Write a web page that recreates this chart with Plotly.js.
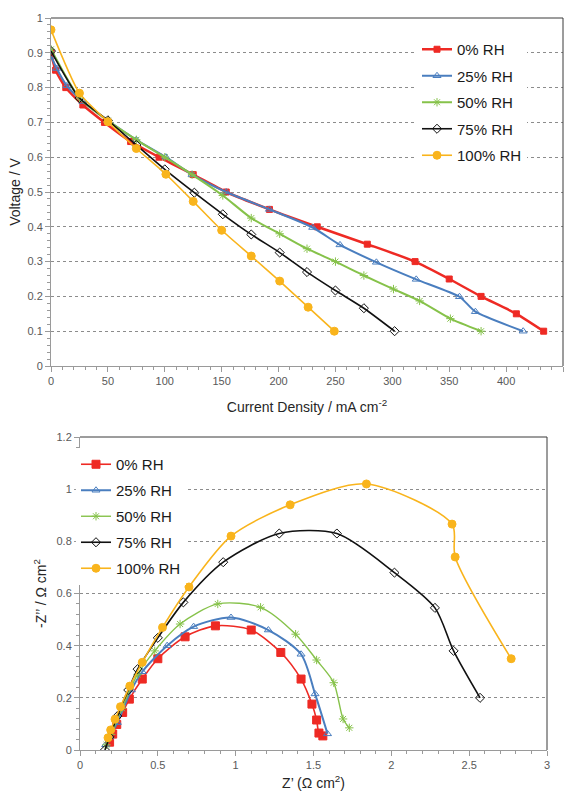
<!DOCTYPE html>
<html>
<head>
<meta charset="utf-8">
<script src="https://cdn.plot.ly/plotly-3.0.1.min.js"></script>
<style>
html,body{margin:0;padding:0;background:#fff;}
#chart{width:571px;height:795px;}
</style>
</head>
<body>
<div id="chart"></div>
<script>
// ---------- Polarization curves (top) ----------
const seriesNames = ["0% RH", "25% RH", "50% RH", "75% RH", "100% RH"];

const cd0  = [0, 4, 13, 28, 47, 70, 95, 125, 154, 192, 234, 278, 320, 350, 378, 409, 433];
const v0   = [0.90, 0.85, 0.80, 0.75, 0.70, 0.645, 0.60, 0.55, 0.50, 0.45, 0.40, 0.35, 0.30, 0.25, 0.20, 0.15, 0.10];

const cd25 = [0, 5, 14, 28, 50, 75, 101, 124, 154, 192, 230, 254, 286, 321, 359, 373, 415];
const v25  = [0.89, 0.855, 0.805, 0.76, 0.705, 0.65, 0.60, 0.55, 0.50, 0.45, 0.398, 0.348, 0.298, 0.249, 0.199, 0.156, 0.10];

const cd50 = [0, 25, 50, 75, 100, 124, 151, 176, 201, 225, 250, 275, 301, 324, 351, 378];
const v50  = [0.91, 0.77, 0.705, 0.65, 0.60, 0.55, 0.49, 0.425, 0.38, 0.337, 0.30, 0.26, 0.221, 0.187, 0.136, 0.10];

const cd75 = [0, 25, 50, 75, 100, 126, 151, 176, 201, 225, 250, 275, 302];
const v75  = [0.905, 0.77, 0.706, 0.635, 0.565, 0.498, 0.436, 0.378, 0.326, 0.27, 0.217, 0.166, 0.10];

const cd100 = [0, 25, 50, 75, 101, 125, 150, 176, 201, 226, 249];
const v100  = [0.966, 0.784, 0.702, 0.625, 0.551, 0.473, 0.39, 0.316, 0.244, 0.169, 0.10];

// ---------- Nyquist plots (bottom) ----------
const zr0  = [0.19, 0.21, 0.236, 0.274, 0.317, 0.40, 0.50, 0.675, 0.87, 1.10, 1.29, 1.42, 1.49, 1.52, 1.535, 1.56];
const zi0  = [0.03, 0.061, 0.098, 0.144, 0.195, 0.272, 0.35, 0.434, 0.476, 0.46, 0.374, 0.272, 0.176, 0.115, 0.065, 0.054];

const zr25 = [0.165, 0.19, 0.24, 0.33, 0.40, 0.56, 0.73, 0.97, 1.21, 1.42, 1.51, 1.59];
const zi25 = [0.02, 0.05, 0.105, 0.23, 0.30, 0.40, 0.473, 0.508, 0.46, 0.367, 0.215, 0.062];

const zr50 = [0.17, 0.20, 0.27, 0.37, 0.48, 0.643, 0.885, 1.16, 1.385, 1.52, 1.63, 1.69, 1.73];
const zi50 = [0.02, 0.06, 0.16, 0.29, 0.38, 0.483, 0.56, 0.547, 0.444, 0.345, 0.258, 0.119, 0.085];

const zr75 = [0.16, 0.19, 0.24, 0.31, 0.37, 0.50, 0.664, 0.92, 1.28, 1.65, 2.02, 2.28, 2.40, 2.57];
const zi75 = [0.0, 0.05, 0.13, 0.23, 0.31, 0.43, 0.566, 0.72, 0.83, 0.83, 0.68, 0.545, 0.38, 0.20];

const zr100 = [0.18, 0.197, 0.225, 0.26, 0.32, 0.40, 0.53, 0.70, 0.97, 1.35, 1.84, 2.39, 2.41, 2.77];
const zi100 = [0.047, 0.077, 0.118, 0.166, 0.245, 0.336, 0.47, 0.625, 0.82, 0.94, 1.02, 0.866, 0.74, 0.35];

// ---------- styles ----------
const colors  = ["#ee2a24", "#4a7ebf", "#86c24a", "#111111", "#f9b41c"];
const symbols = ["square", "triangle-up-open", "asterisk-open", "diamond-open", "circle"];
const sizesTop = [6, 7, 7, 7, 8];
const sizesBot = [8, 7, 7, 7, 8];
const widthsTop = [2.5, 2, 2, 1.6, 1.6];
const widthsBot = [1.6, 2, 1.4, 1.6, 1.6];

const topX = [cd0, cd25, cd50, cd75, cd100];
const topY = [v0, v25, v50, v75, v100];
const botX = [zr0, zr25, zr50, zr75, zr100];
const botY = [zi0, zi25, zi50, zi75, zi100];

const traces = [];
for (let i = 0; i < 5; i++) {
  traces.push({
    x: topX[i], y: topY[i], xaxis: "x", yaxis: "y",
    name: seriesNames[i], mode: "lines+markers", legend: "legend", legendgroup: "t" + i,
    line: {color: colors[i], width: widthsTop[i], shape: "spline", smoothing: 0.6},
    marker: {symbol: symbols[i], size: sizesTop[i], color: colors[i], line: {color: colors[i], width: 1}}
  });
}
for (let i = 0; i < 5; i++) {
  traces.push({
    x: botX[i], y: botY[i], xaxis: "x2", yaxis: "y2",
    name: seriesNames[i], mode: "lines+markers", legend: "legend2", legendgroup: "b" + i,
    line: {color: colors[i], width: widthsBot[i], shape: "spline", smoothing: 0.8},
    marker: {symbol: symbols[i], size: sizesBot[i], color: colors[i], line: {color: colors[i], width: 1}}
  });
}

const W = 571, H = 795;
const tickFont = {family: "Liberation Sans, Arial, sans-serif", size: 11, color: "#595959"};
const titleFont = {family: "Liberation Sans, Arial, sans-serif", size: 14, color: "#262626"};
const axisCommon = {
  showline: true, linecolor: "#9a9a9a", linewidth: 1,
  ticks: "outside", ticklen: 5, tickcolor: "#9a9a9a",
  tickfont: tickFont, zeroline: false, showgrid: false
};

const layout = {
  width: W, height: H,
  margin: {l: 0, r: 0, t: 0, b: 0},
  paper_bgcolor: "#fff", plot_bgcolor: "#fff",
  showlegend: true,
  xaxis: Object.assign({}, axisCommon, {
    domain: [51 / W, 563 / W], range: [0, 450], dtick: 50, anchor: "y",
    minor: {dtick: 10, ticks: "outside", ticklen: 3, tickcolor: "#9a9a9a"},
    title: {text: "Current Density / mA cm<sup>-2</sup>", font: titleFont, standoff: 15}
  }),
  yaxis: Object.assign({}, axisCommon, {
    domain: [1 - 366 / H, 1 - 18 / H], range: [0, 1], dtick: 0.1, anchor: "x",
    showgrid: true, gridcolor: "#8c8c8c", griddash: "dot", gridwidth: 1,
    minor: {dtick: 0.02, ticks: "outside", ticklen: 3, tickcolor: "#9a9a9a"},
    title: {text: "Voltage / V", font: titleFont, standoff: 3}
  }),
  xaxis2: Object.assign({}, axisCommon, {
    domain: [80 / W, 547 / W], range: [0, 3], dtick: 0.5, anchor: "y2",
    minor: {dtick: 0.1, ticks: "outside", ticklen: 3, tickcolor: "#9a9a9a"},
    title: {text: "Z\u2019 (\u03A9 cm<sup>2</sup>)", font: titleFont, standoff: 7}
  }),
  yaxis2: Object.assign({}, axisCommon, {
    domain: [1 - 750 / H, 1 - 437 / H], range: [0, 1.2], dtick: 0.2, anchor: "x2",
    showgrid: true, gridcolor: "#8c8c8c", griddash: "dot", gridwidth: 1,
    minor: {dtick: 0.04, ticks: "outside", ticklen: 3, tickcolor: "#9a9a9a"},
    title: {text: "-Z\u2019\u2019 / \u03A9 cm<sup>2</sup>", font: titleFont, standoff: 6}
  }),
  legend: {
    x: 417 / W, y: 1 - 33 / H, xanchor: "left", yanchor: "top",
    bgcolor: "#fff", borderwidth: 0, tracegroupgap: 4,
    font: {family: "Liberation Sans, Arial, sans-serif", size: 15, color: "#1a1a1a"}
  },
  legend2: {
    x: 76 / W, y: 1 - 448 / H, xanchor: "left", yanchor: "top",
    bgcolor: "#fff", borderwidth: 0, tracegroupgap: 3.5,
    font: {family: "Liberation Sans, Arial, sans-serif", size: 15, color: "#1a1a1a"}
  },
  shapes: [
    {type: "line", xref: "x domain", yref: "y domain", x0: 0, x1: 1, y0: 1, y1: 1, line: {color: "#3a3a3a", width: 1}},
    {type: "line", xref: "x domain", yref: "y domain", x0: 1, x1: 1, y0: 0, y1: 1, line: {color: "#3a3a3a", width: 1}},
    {type: "line", xref: "x2 domain", yref: "y2 domain", x0: 0, x1: 1, y0: 1, y1: 1, line: {color: "#3a3a3a", width: 1}},
    {type: "line", xref: "x2 domain", yref: "y2 domain", x0: 1, x1: 1, y0: 0, y1: 1, line: {color: "#3a3a3a", width: 1}}
  ]
};

Plotly.newPlot("chart", traces, layout, {displayModeBar: false, staticPlot: true});
</script>
</body>
</html>
